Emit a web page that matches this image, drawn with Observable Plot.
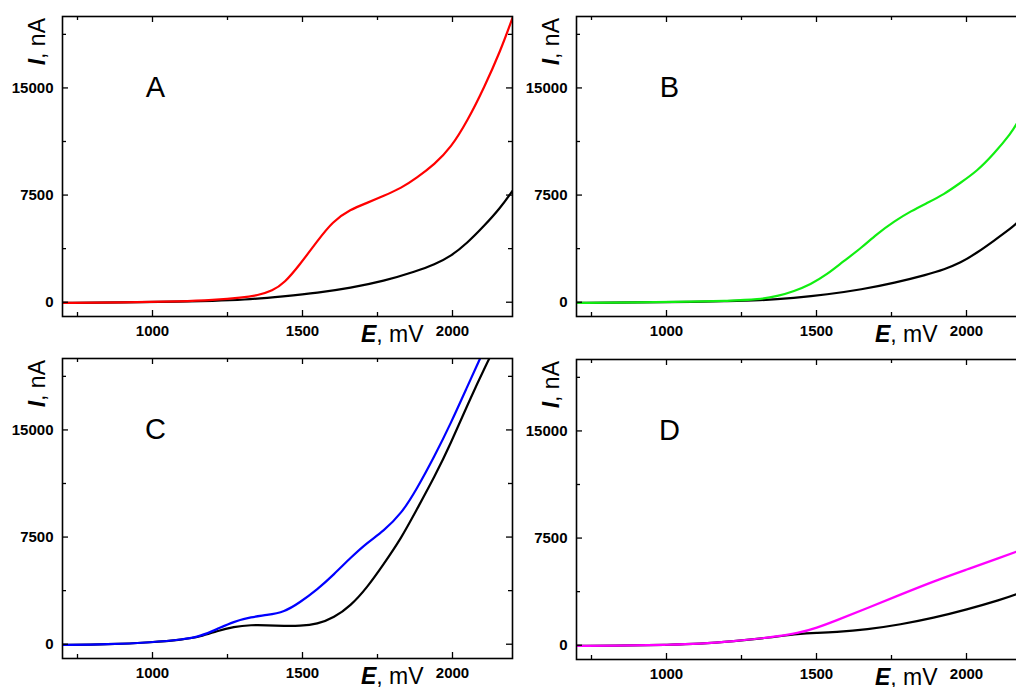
<!DOCTYPE html>
<html><head><meta charset="utf-8">
<script src="https://cdn.jsdelivr.net/npm/d3@7"></script>
<script src="https://cdn.jsdelivr.net/npm/@observablehq/plot@0.6"></script>
<style>
html,body{margin:0;padding:0;background:#fff;overflow:hidden;}
#wrap{position:relative;width:1016px;height:687px;overflow:hidden;background:#fff;}
#wrap svg{position:absolute;}
</style></head><body><div id="wrap"></div>
<script>
// ---- tick values ----
const xMajor = [1000, 1500, 2000];
const xMinor = [750, 1250, 1750];
const yMajor = [0, 7500, 15000];
const yMinor = [3750, 11250, 18750];
const panelLetters = ["A", "B", "C", "D"];
const panelColors = ["#ff0000", "#11ee11", "#0000ff", "#ff00ff"];

// ---- Panel A ----
const eA_red = [700, 900, 1100, 1200, 1300, 1350, 1400, 1440, 1490, 1550, 1600, 1660, 1715, 1770, 1830, 1880, 1940, 1995, 2050, 2105, 2160, 2200];
const iA_red = [-50, -20, 60, 150, 320, 480, 800, 1350, 2600, 4300, 5650, 6500, 6950, 7430, 8000, 8700, 9650, 10820, 12700, 15000, 17600, 19900];
const eA_blk = [700, 900, 1100, 1200, 1300, 1440, 1550, 1660, 1770, 1880, 1940, 1995, 2050, 2105, 2160, 2200];
const iA_blk = [-50, -20, 40, 90, 160, 420, 650, 1000, 1470, 2170, 2640, 3220, 4160, 5330, 6610, 7800];

// ---- Panel B ----
const eB_grn = [700, 900, 1100, 1200, 1310, 1370, 1425, 1480, 1535, 1590, 1650, 1700, 1760, 1815, 1870, 1925, 1980, 2035, 2090, 2150, 2170, 2200];
const iB_grn = [-50, -20, 40, 90, 190, 420, 770, 1240, 1940, 2870, 3810, 4760, 5680, 6380, 6960, 7550, 8360, 9180, 10350, 11870, 12570, 13700];
const eB_blk = [700, 900, 1100, 1200, 1310, 1425, 1535, 1650, 1760, 1870, 1925, 1980, 2035, 2090, 2150, 2170, 2200];
const iB_blk = [-50, -20, 30, 70, 120, 300, 540, 890, 1350, 1940, 2290, 2750, 3460, 4280, 5210, 5560, 6300];

// ---- Panel C ----
const eC_blu = [700, 850, 1000, 1100, 1160, 1215, 1270, 1330, 1380, 1440, 1490, 1550, 1605, 1660, 1715, 1770, 1830, 1880, 1940, 1995, 2050, 2090, 2110];
const iC_blu = [-50, -20, 130, 320, 560, 1050, 1580, 1910, 2030, 2260, 2910, 3840, 4890, 6050, 7100, 7920, 9150, 10830, 13160, 15490, 18060, 19920, 20800];
const eC_blk = [700, 850, 1000, 1100, 1160, 1215, 1270, 1330, 1380, 1440, 1490, 1550, 1605, 1660, 1715, 1770, 1830, 1880, 1940, 1995, 2050, 2120, 2140];
const iC_blk = [-50, -20, 130, 320, 520, 930, 1230, 1350, 1330, 1280, 1280, 1400, 1860, 2680, 3960, 5590, 7450, 9400, 11700, 14090, 16780, 19920, 20700];

// ---- Panel D ----
const eD_mag = [700, 900, 1000, 1110, 1225, 1335, 1445, 1500, 1560, 1670, 1780, 1890, 2000, 2115, 2170, 2200];
const iD_mag = [-50, -10, 30, 90, 280, 510, 860, 1210, 1680, 2610, 3540, 4470, 5290, 6150, 6570, 6800];
const eD_blk = [700, 900, 1000, 1110, 1225, 1335, 1445, 1500, 1560, 1670, 1780, 1890, 2000, 2115, 2170, 2200];
const iD_blk = [-50, -10, 30, 90, 280, 510, 810, 860, 910, 1100, 1450, 1910, 2490, 3190, 3590, 3850];

const FONT = "'Liberation Sans', Arial, Helvetica, sans-serif";
const rows = (E, I) => E.map((e, i) => ({E: e, I: I[i]}));

const panels = [
  {col: rows(eA_red, iA_red), blk: rows(eA_blk, iA_blk), left: 0,   top: 0,   mt: 16, mb: 26},
  {col: rows(eB_grn, iB_grn), blk: rows(eB_blk, iB_blk), left: 514, top: 0,   mt: 16, mb: 26},
  {col: rows(eC_blu, iC_blu), blk: rows(eC_blk, iC_blk), left: 0,   top: 342, mt: 16, mb: 29},
  {col: rows(eD_mag, iD_mag), blk: rows(eD_blk, iD_blk), left: 514, top: 342, mt: 17, mb: 28}
];

const wrap = document.getElementById("wrap");
const ML = 62, MR = 2, PW = 450, PH = 300;

panels.forEach((p, k) => {
  const W = ML + PW + MR, H = p.mt + PH + p.mb;
  const tk = {stroke: "#000", strokeWidth: 1.3};
  const svg = Plot.plot({
    width: W, height: H,
    marginLeft: ML, marginRight: MR, marginTop: p.mt, marginBottom: p.mb,
    x: {domain: [700, 2200]},
    y: {domain: [-1000, 20000]},
    style: {fontFamily: FONT, background: "transparent", overflow: "visible", maxWidth: "none", color: "#000"},
    marks: [
      Plot.line(p.blk, {x: "E", y: "I", stroke: "#000", strokeWidth: 2.2, curve: "basis", clip: true}),
      Plot.line(p.col, {x: "E", y: "I", stroke: panelColors[k], strokeWidth: 2.2, curve: "basis", clip: true}),
      // inward ticks on all four sides
      Plot.tickY(yMajor, {y: d => d, insetRight: PW - 6, ...tk}),
      Plot.tickY(yMinor, {y: d => d, insetRight: PW - 4, ...tk}),
      Plot.tickY(yMajor, {y: d => d, insetLeft: PW - 6, ...tk}),
      Plot.tickY(yMinor, {y: d => d, insetLeft: PW - 4, ...tk}),
      Plot.tickX(xMajor, {x: d => d, insetTop: PH - 6, ...tk}),
      Plot.tickX(xMinor, {x: d => d, insetTop: PH - 4, ...tk}),
      Plot.tickX(xMajor, {x: d => d, insetBottom: PH - 6, ...tk}),
      Plot.tickX(xMinor, {x: d => d, insetBottom: PH - 4, ...tk}),
      Plot.frame({stroke: "#000", strokeWidth: 1.6}),
      Plot.axisY(yMajor, {tickSize: 0, tickPadding: 9, fontSize: 15, fontWeight: "bold", tickFormat: "d", label: null}),
      Plot.axisX(xMajor, {tickSize: 0, tickPadding: 9, fontSize: 15, fontWeight: "bold", tickFormat: "d", label: null}),
      Plot.text([panelLetters[k]], {text: d => d, frameAnchor: "top-left", dx: 93, dy: 71, textAnchor: "middle", lineAnchor: "middle", fontSize: 29, fill: "#000"})
    ]
  });
  svg.style.left = p.left + "px";
  svg.style.top = p.top + "px";
  const s = d3.select(svg);
  const yl = s.append("text")
    .attr("transform", `translate(45,${p.mt + 2}) rotate(-90)`)
    .attr("text-anchor", "end").attr("font-size", 23).attr("font-family", FONT).attr("fill", "#000");
  yl.append("tspan").attr("font-weight", "bold").attr("font-style", "italic").text("I");
  yl.append("tspan").text(", nA");
  const xl = s.append("text")
    .attr("x", ML + 299).attr("y", p.mt + PH + 26)
    .attr("text-anchor", "start").attr("font-size", 23).attr("font-family", FONT).attr("fill", "#000");
  xl.append("tspan").attr("font-weight", "bold").attr("font-style", "italic").text("E");
  xl.append("tspan").text(", mV");
  wrap.appendChild(svg);
});
</script>
</body></html>
